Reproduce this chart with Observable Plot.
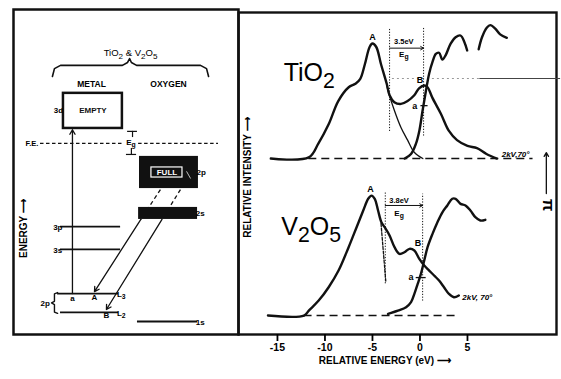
<!DOCTYPE html>
<html>
<head>
<meta charset="utf-8">
<script src="https://cdn.jsdelivr.net/npm/d3@7"></script>
<script src="https://cdn.jsdelivr.net/npm/@observablehq/plot@0.6"></script>
<style>
  body { margin: 0; background: #fff; }
  #wrap { position: relative; width: 561px; height: 379px; overflow: hidden; background: #fff; }
  #left { position: absolute; left: 0; top: 0; width: 240px; height: 345px; }
  #right { position: absolute; left: 236px; top: 0; width: 325px; height: 379px; }
</style>
</head>
<body>
<div id="wrap"><div id="left"></div><div id="right"></div></div>
<script>
// ================= DATA =================
// --- Right panel: soft X-ray spectra (relative energy in eV, relative intensity) ---
const energyTicks = [-15, -10, -5, 0, 5];

const tio2ValenceE = [-15.7, -11.7, -10.7, -9.6, -8.6, -7.5, -6.8, -6.3, -5.8, -5.3, -5.0, -4.6, -4.1, -3.5, -3.2, -2.7, -2.0, -1.3, -0.6, -0.1, 0.45, 0.8, 1.3, 2.2, 3.05, 3.9, 5.0, 6.0, 7.0, 8.1];
const tio2ValenceI = [0, 0.01, 0.13, 0.30, 0.50, 0.62, 0.65, 0.69, 0.82, 0.97, 1.0, 0.97, 0.82, 0.65, 0.55, 0.49, 0.475, 0.50, 0.55, 0.61, 0.635, 0.62, 0.53, 0.39, 0.24, 0.16, 0.11, 0.09, 0.04, 0.0];
const tio2ComponentE = [-3.5, -3.36, -2.7, -2.0, -1.3, -0.6, 0.3];
const tio2ComponentI = [0.65, 0.59, 0.42, 0.27, 0.16, 0.055, 0];
const tio2EdgeE1 = [-1.6, -0.94, -0.42, -0.07, 0.28, 0.63, 0.97, 1.32, 1.67, 2.01, 2.36, 2.71, 3.23, 3.75, 4.27, 4.69, 4.97];
const tio2EdgeI1 = [0, 0.04, 0.13, 0.24, 0.42, 0.59, 0.74, 0.84, 0.91, 0.92, 0.86, 0.90, 1.0, 1.055, 1.07, 1.01, 0.94];
const tio2EdgeE2 = [6.18, 6.53, 7.05, 7.4, 7.92, 8.44, 9.14];
const tio2EdgeI2 = [0.95, 1.055, 1.14, 1.16, 1.13, 1.08, 1.05];

const v2o5ValenceE = [-16.0, -12.2, -11.7, -10.66, -9.61, -8.57, -7.53, -6.67, -5.97, -5.45, -5.1, -4.76, -4.41, -4.06, -3.72, -3.2, -2.68, -2.16, -1.64, -1.11, -0.59, -0.07, 0.45, 0.97, 1.49, 2.01, 2.53, 3.05, 3.57, 4.09];
const v2o5ValenceI = [0, 0, 0.043, 0.13, 0.246, 0.391, 0.59, 0.768, 0.913, 1.015, 1.043, 1.015, 0.913, 0.811, 0.768, 0.696, 0.594, 0.536, 0.55, 0.58, 0.565, 0.493, 0.435, 0.391, 0.348, 0.304, 0.246, 0.188, 0.159, 0.174];
const v2o5ComponentE = [-4.1, -3.6];
const v2o5ComponentI = [0.80, 0.30];
const v2o5EdgeE = [-3.36, -2.32, -1.46, -0.94, -0.59, -0.24, 0.1, 0.45, 0.8, 1.32, 1.84, 2.36, 2.88, 3.4, 3.75, 4.27, 4.79, 5.31, 5.83, 6.35, 6.88];
const v2o5EdgeI = [0.015, 0.043, 0.072, 0.116, 0.188, 0.275, 0.362, 0.478, 0.594, 0.71, 0.811, 0.898, 0.957, 1.015, 1.015, 0.971, 0.957, 0.913, 0.855, 0.826, 0.832];

const compounds = ["TiO_{2}", "V_{2}O_{5}"];
const offsets = [1.365, 0];            // vertical stacking of the two spectra
const baselineRanges = [[-11.7, 11.9], [-12.2, 3.96]];
const gapEdges = [[-3.2, 0.38], [-3.65, 0.28]];
const gapLabels = ["3.5eV", "3.8eV"];
const conditions = ["2kV,70°", "2kV, 70°"];

// --- Left panel: schematic energy-level diagram (arbitrary diagram units) ---
const headings = [{name: "METAL", x: 34.7}, {name: "OXYGEN", x: 68.9}];
const bands = [
  {name: "EMPTY", level: "3d", x1: 22.2, x2: 48.4, y1: 63.4, y2: 74.2, filled: false},
  {name: "FULL", level: "2p", x1: 56.0, x2: 82.2, y1: 44.9, y2: 54.8, filled: true},
  {name: "", level: "2s", x1: 55.6, x2: 81.8, y1: 35.4, y2: 39.1, filled: true}
];
const levels = [
  {name: "3p", x1: 20.9, x2: 47.6, y: 33.2, side: "left"},
  {name: "3s", x1: 20.9, x2: 47.6, y: 26.2, side: "left"},
  {name: "L_{3}", x1: 19.6, x2: 46.7, y: 12.6, side: "right"},
  {name: "L_{2}", x1: 20.9, x2: 46.7, y: 6.8, side: "right"},
  {name: "1s", x1: 55.1, x2: 81.8, y: 4.0, side: "right"}
];
const fermiLevel = 58.8;
const transitions = [
  {name: "a", xs: 26.2, ys: 12.6, x1: 26.2, y1: 12.6, x2: 26.2, y2: 63.0},
  {name: "A", xs: 65.3, ys: 44.6, x1: 56.6, y1: 35.4, x2: 36.0, y2: 13.2},
  {name: "B", xs: 74.2, ys: 44.6, x1: 66.0, y1: 35.4, x2: 41.3, y2: 7.7}
];
const braceX = [17.3, 18.2, 20.9, 48.4, 50.7, 51.6, 52.4, 54.7, 83.1, 85.8, 86.7];
const braceY = [79.4, 81.8, 82.8, 82.8, 83.7, 84.9, 83.7, 82.8, 82.8, 81.8, 79.4];
const bracketX = [19.6, 18.2, 18.2, 16.9, 18.2, 18.2, 19.6];
const bracketY = [12.9, 12.5, 10.2, 9.7, 9.2, 6.9, 6.5];

// ================= HELPERS =================
const ink = "#111";
const font = "'Liberation Sans', Arial, Helvetica, sans-serif";
const pts = (E, I, off = 0) => E.map((e, k) => ({e, v: I[k] + off}));
const xy = (X, Y) => X.map((x, k) => ({x, y: Y[k]}));

function applySubscripts(svg) {
  d3.select(svg).selectAll("text").each(function () {
    const s = this.textContent;
    if (!s.includes("_{")) return;
    const fs = parseFloat(getComputedStyle(this).fontSize) || 10;
    const parts = s.split(/(_\{[^}]*\})/).filter(p => p.length);
    const t = d3.select(this);
    t.text(null);
    let shifted = false;
    for (const p of parts) {
      const sub = p.startsWith("_{");
      const ts = t.append("tspan").text(sub ? p.slice(2, -1) : p);
      if (sub) { ts.attr("font-size", fs * 0.85).attr("dy", fs * 0.3); shifted = true; }
      else if (shifted) { ts.attr("dy", -fs * 0.3); shifted = false; }
    }
  });
}

// ================= LEFT PANEL =================
const left = Plot.plot({
  width: 240, height: 345,
  marginLeft: 13, marginRight: 2, marginTop: 9, marginBottom: 11,
  x: {domain: [0, 100], axis: null},
  y: {domain: [0, 100], axis: null},
  style: {fontFamily: font, fontWeight: "bold", fontSize: "8px", background: "transparent", maxWidth: "none", overflow: "visible"},
  marks: [
    Plot.frame({stroke: ink, strokeWidth: 2.5}),
    Plot.text(["TiO_{2} & V_{2}O_{5}"], {x: 52, y: 86.6, text: d => d, fontSize: 9.5, fontWeight: "normal"}),
    Plot.line(xy(braceX, braceY), {x: "x", y: "y", stroke: ink, strokeWidth: 1.6}),
    Plot.text(headings, {x: "x", y: 76.9, text: "name", fontSize: 8.5}),
    // transitions from the oxygen 2p band
    Plot.link(transitions.slice(1), {x1: "xs", y1: "ys", x2: "x1", y2: "y1", stroke: ink, strokeWidth: 1.3, strokeDasharray: "4,3"}),
    Plot.arrow(transitions, {x1: "x1", y1: "y1", x2: "x2", y2: "y2", stroke: ink, strokeWidth: 1.3, headLength: 6}),
    Plot.text(transitions, {x: "x2", y: d => d.name === "a" ? 11.0 : d.y2 - 1.8, text: "name", fontSize: 8}),
    // bands
    Plot.rect(bands.filter(d => !d.filled), {x1: "x1", x2: "x2", y1: "y1", y2: "y2", fill: "white", stroke: ink, strokeWidth: 2.5}),
    Plot.rect(bands.filter(d => d.filled), {x1: "x1", x2: "x2", y1: "y1", y2: "y2", fill: ink}),
    Plot.rect(bands.filter(d => d.name === "FULL"), {x1: d => d.x1 + 5.3, x2: d => d.x2 - 7.1, y1: d => d.y1 + 3.4, y2: d => d.y2 - 3.4, fill: "none", stroke: "white", strokeWidth: 1.2}),
    Plot.link(bands.filter(d => d.name === "FULL"), {x1: d => d.x2 - 5.3, y1: d => d.y1 + 5.3, x2: d => d.x2 - 3.5, y2: d => d.y1 + 3.1, stroke: "#bbb", strokeWidth: 1}),
    Plot.text(bands, {x: d => d.name === "FULL" ? (d.x1 + d.x2) / 2 - 0.9 : (d.x1 + d.x2) / 2, y: d => (d.y1 + d.y2) / 2, text: "name", fill: d => d.filled ? "white" : ink, fontSize: 8}),
    Plot.text(bands, {x: d => d.level === "3d" ? d.x1 - 2.2 : d.x2 + 1.2, y: d => (d.y1 + d.y2) / 2, text: "level", textAnchor: d => d.level === "3d" ? "end" : "start", fontSize: 8}),
    // Fermi energy and gap marker
    Plot.ruleY([fermiLevel], {x1: 12, x2: 48.6, stroke: ink, strokeWidth: 1.2, strokeDasharray: "3.5,2.5"}),
    Plot.ruleY([fermiLevel], {x1: 55.6, x2: 91.1, stroke: ink, strokeWidth: 1.2, strokeDasharray: "3.5,2.5"}),
    Plot.text(["F.E."], {x: 5.3, y: fermiLevel, text: d => d, textAnchor: "start", fontSize: 7.5}),
    Plot.text(["E_{g}"], {x: 52.2, y: fermiLevel + 0.4, text: d => d, fontSize: 8}),
    Plot.ruleY([62.5], {x1: 50.7, x2: 55.1, stroke: ink, strokeWidth: 1.2}),
    Plot.ruleX([52.9], {y1: 60.6, y2: 62.5, stroke: ink, strokeWidth: 1.2}),
    Plot.ruleY([55.4], {x1: 50.2, x2: 54.7, stroke: ink, strokeWidth: 1.2}),
    Plot.ruleX([52.4], {y1: 55.4, y2: 57.2, stroke: ink, strokeWidth: 1.2}),
    // atomic levels
    Plot.ruleY(levels, {y: "y", x1: "x1", x2: "x2", stroke: ink, strokeWidth: 1.8}),
    Plot.text(levels, {x: d => d.side === "left" ? d.x1 - 1.2 : d.x2 + 1.2, y: d => d.y - 0.3, text: "name", textAnchor: d => d.side === "left" ? "end" : "start", fontSize: 8}),
    Plot.line(xy(bracketX, bracketY), {x: "x", y: "y", stroke: ink, strokeWidth: 1.4}),
    Plot.text(["2p"], {x: 16.2, y: 9.7, text: d => d, textAnchor: "end", fontSize: 8}),
    Plot.text(["ENERGY ⟶"], {x: 4.4, y: 32.6, text: d => d, rotate: -90, fontSize: 10})
  ]
});
document.getElementById("left").appendChild(left);
applySubscripts(left);

// ================= RIGHT PANEL =================
const spectra = [
  {valence: pts(tio2ValenceE, tio2ValenceI, offsets[0]), comp: pts(tio2ComponentE, tio2ComponentI, offsets[0]), compDash: null,
   edges: [pts(tio2EdgeE1, tio2EdgeI1, offsets[0]), pts(tio2EdgeE2, tio2EdgeI2, offsets[0])]},
  {valence: pts(v2o5ValenceE, v2o5ValenceI, offsets[1]), comp: pts(v2o5ComponentE, v2o5ComponentI, offsets[1]), compDash: "3,1.6",
   edges: [pts(v2o5EdgeE, v2o5EdgeI, offsets[1])]}
];
const off0 = offsets[0], off1 = offsets[1];
const annot = [
  {x1: gapEdges[0][0], x2: gapEdges[0][0], y1: off0 + 0.24, y2: off0 + 1.14},
  {x1: gapEdges[0][1], x2: gapEdges[0][1], y1: off0 + 0.20, y2: off0 + 1.14},
  {x1: gapEdges[1][0], x2: gapEdges[1][0], y1: off1 + 0.28, y2: off1 + 1.07},
  {x1: gapEdges[1][1], x2: gapEdges[1][1], y1: off1 + 0.13, y2: off1 + 1.06}
];
const gapArrows = [
  {x1: gapEdges[0][0], x2: gapEdges[0][1], y: off0 + 0.96, label: gapLabels[0], lx: -1.7, ly: off0 + 1.018, gy: off0 + 0.905},
  {x1: gapEdges[1][0], x2: gapEdges[1][1], y: off1 + 0.957, label: gapLabels[1], lx: -2.2, ly: off1 + 1.0, gy: off1 + 0.887}
];
const peakLabels = [
  {t: "A", e: -5.0, v: off0 + 1.06}, {t: "B", e: 0.0, v: off0 + 0.678}, {t: "a", e: -0.55, v: off0 + 0.455},
  {t: "A", e: -5.2, v: off1 + 1.096}, {t: "B", e: -0.2, v: off1 + 0.626}, {t: "a", e: -0.95, v: off1 + 0.33}
];
const aTicks = [{x1: 0.05, x2: 0.8, y: off0 + 0.46}, {x1: -0.45, x2: 0.6, y: off1 + 0.33}];
const lineStyle = {x: "e", y: "v", stroke: ink, curve: "catmull-rom"};

const right = Plot.plot({
  width: 325, height: 379,
  marginLeft: 2, marginRight: 5, marginTop: 12, marginBottom: 45,
  x: {domain: [-19.1, 14.37]},
  y: {domain: [-0.165, 2.635], axis: null},
  style: {fontFamily: font, fontWeight: "bold", fontSize: "10px", background: "transparent", maxWidth: "none", overflow: "visible"},
  marks: [
    Plot.frame({stroke: ink, strokeWidth: 2.4}),
    Plot.axisX({ticks: energyTicks, tickSize: 7, tickPadding: 2, tickFormat: d => String(d), label: null, strokeWidth: 1.8, fontSize: 10.5, fontWeight: "bold"}),
    Plot.text(["RELATIVE ENERGY (eV) ⟶"], {x: -3.7, frameAnchor: "bottom", dy: 29, text: d => d, fontSize: 10}),
    Plot.text(["RELATIVE INTENSITY ⟶"], {y: 1.2, frameAnchor: "left", dx: 9, rotate: -90, textAnchor: "middle", text: d => d, fontSize: 10}),
    // scan artefact line
    Plot.ruleY([off0 + 0.696], {x1: -2.9, x2: 6.3, stroke: "#999", strokeWidth: 1, strokeDasharray: "2,3"}),
    Plot.ruleY([off0 + 0.696], {x1: 6.3, x2: 14.8, stroke: "#444", strokeWidth: 1.2}),
    // baselines
    Plot.ruleY(offsets, {y: d => d, x1: (d, k) => baselineRanges[k][0], x2: (d, k) => baselineRanges[k][1], stroke: ink, strokeWidth: 1.6, strokeDasharray: "8,5"}),
    // gap markers
    Plot.link(annot, {x1: "x1", x2: "x2", y1: "y1", y2: "y2", stroke: ink, strokeWidth: 1, strokeDasharray: "1.2,1.6"}),
    Plot.arrow(gapArrows, {x1: "x1", x2: "x2", y1: "y", y2: "y", stroke: ink, strokeWidth: 1, headLength: 5}),
    Plot.text(gapArrows, {x: "lx", y: "ly", text: "label", fontSize: 7.5}),
    Plot.text(gapArrows, {x: "lx", y: "gy", text: () => "E_{g}", fontSize: 8}),
    // spectra
    ...spectra.flatMap(s => [
      Plot.line(s.valence, {...lineStyle, strokeWidth: 2.4}),
      Plot.line(s.comp, {...lineStyle, strokeWidth: 1.3, strokeDasharray: s.compDash}),
      ...s.edges.map(seg => Plot.line(seg, {...lineStyle, strokeWidth: 2.4}))
    ]),
    Plot.link(aTicks, {x1: "x1", x2: "x2", y1: "y", y2: "y", stroke: ink, strokeWidth: 1.3}),
    Plot.text(peakLabels, {x: "e", y: "v", text: "t", fontSize: 9}),
    // compound names and conditions
    Plot.text(compounds, {x: [-11.65, -11.45], y: [2.113, 0.774], text: d => d, fontSize: 25, fontWeight: "normal"}),
    Plot.text(conditions, {x: [8.6, 4.45], y: [1.4, 0.157], text: d => d, textAnchor: "start", fontSize: 8, fontStyle: "italic"}),
    // marks on the right margin
    Plot.arrow([{e: 13.3}], {x1: "e", x2: "e", y1: 1.061, y2: 1.417, stroke: ink, strokeWidth: 1.3, headLength: 5}),
    Plot.text(["π"], {x: 13.45, y: 0.96, text: d => d, rotate: 90, fontSize: 16})
  ]
});
document.getElementById("right").appendChild(right);
applySubscripts(right);
</script>
</body>
</html>
